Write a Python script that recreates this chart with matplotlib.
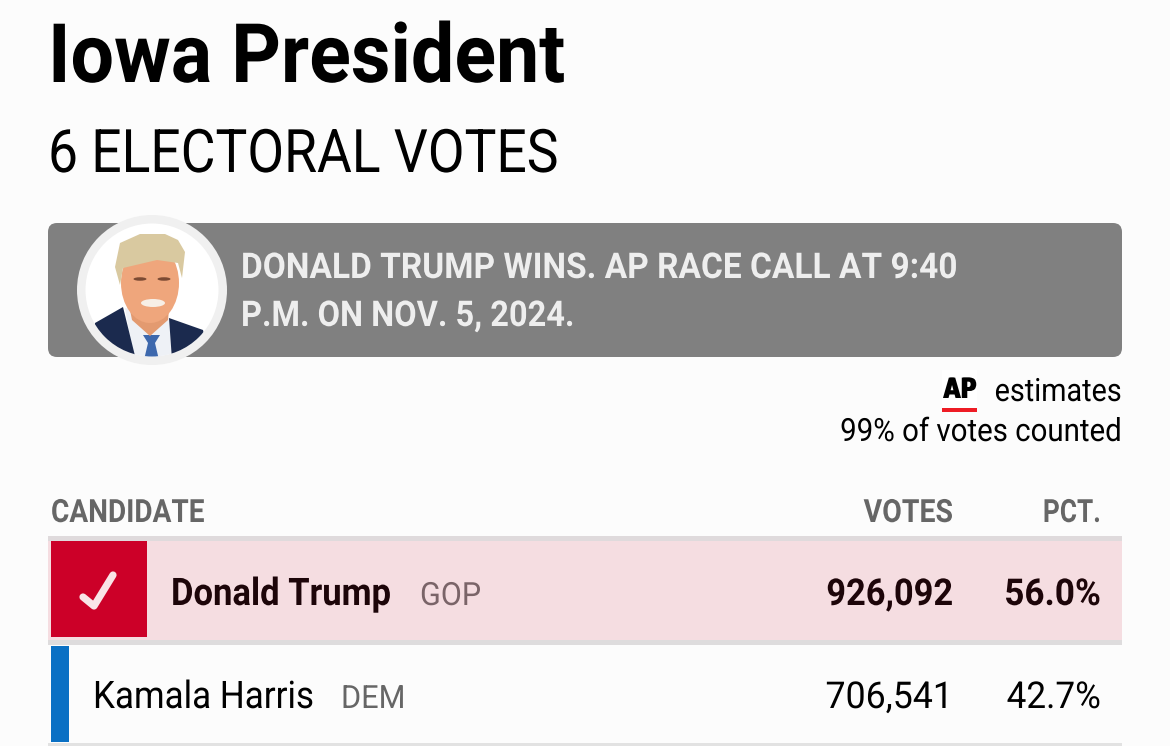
import matplotlib
matplotlib.use("Agg")
import matplotlib.pyplot as plt
import matplotlib.patheffects as pe
from matplotlib.patches import Rectangle, FancyBboxPatch, Circle, Ellipse, Polygon
from matplotlib.transforms import Affine2D

candidates = ["Donald Trump", "Kamala Harris"]
parties = ["GOP", "DEM"]
votes = ["926,092", "706,541"]
pcts = ["56.0%", "42.7%"]

title = "Iowa President"
subtitle = "6 ELECTORAL VOTES"
call_lines = ["DONALD TRUMP WINS. AP RACE CALL AT 9:40", "P.M. ON NOV. 5, 2024."]
columns = ["CANDIDATE", "VOTES", "PCT."]
credit_lines = ["estimates", "99% of votes counted"]

FONT = "Roboto"


# no condensed font installed, so squeeze the glyph outlines around the anchor
class Squeeze(pe.AbstractPathEffect):
    def __init__(self, x0, sx, shift=0):
        super().__init__()
        self.x0 = x0
        self.sx = sx
        self.shift = shift

    def draw_path(self, renderer, gc, tpath, affine, rgbFace=None):
        squeeze = Affine2D().translate(-self.x0, 0).scale(self.sx, 1).translate(self.x0 + self.shift, 0)
        renderer.draw_path(gc, tpath, affine + squeeze, rgbFace)


fig = plt.figure(figsize=(11.7, 7.46), dpi=100, facecolor="#fcfcfc")
ax = fig.add_axes([0, 0, 1, 1])
ax.set_xlim(0, 1170)
ax.set_ylim(746, 0)
ax.axis("off")


def txt(x, y, s, px, sx, color="black", weight="normal", ha="left", family=FONT):
    t = ax.text(x, y, s, fontsize=px * 0.72, color=color, fontweight=weight, ha=ha,
                va="baseline", family=family, zorder=6)
    t.set_path_effects([Squeeze(x, sx)])
    return t


def box(x0, y0, x1, y1, color, z=2):
    ax.add_patch(Rectangle((x0, y0), x1 - x0, y1 - y0, fc=color, ec="none", zorder=z))


txt(48, 82, title, 82, 0.94, weight="bold")
txt(48, 172, subtitle, 60, 0.89)

# banner
ax.add_patch(FancyBboxPatch((48, 223), 1074, 134, boxstyle="round,pad=0,rounding_size=9",
                            fc="#808080", ec="none", zorder=1))
txt(241, 278, call_lines[0], 35.5, 0.942, color="#eeeeee", weight="bold")
txt(241, 326, call_lines[1], 35.5, 0.917, color="#eeeeee", weight="bold")

# portrait
ax.add_patch(Circle((152, 290), 75, fc="#f0f0f0", ec="none", zorder=3))
ax.add_patch(Circle((152, 290), 66.5, fc="white", ec="none", zorder=3))
clip = Circle((152, 290), 66.5, transform=ax.transData)
parts = [
    Polygon([(125, 308), (169, 318), (172, 360), (134, 360)], fc="#eef1f6", ec="none"),
    Polygon([(95, 323), (123, 307), (136, 360), (90, 360)], fc="#1b2a4e", ec="none"),
    Polygon([(169, 318), (203, 330), (210, 360), (172, 360)], fc="#1b2a4e", ec="none"),
    Polygon([(143, 335), (160, 335), (155, 343), (159, 360), (144, 360), (148, 343)], fc="#3d68ad", ec="none"),
    Polygon([(128, 300), (170, 300), (168, 320), (150, 336), (132, 320)], fc="#e39a70", ec="none"),
    Ellipse((150, 283), 58, 80, fc="#efa67c", ec="none"),
    Polygon([(120, 243), (140, 234), (165, 234), (178, 240), (185, 252), (182, 278), (178, 263),
             (157, 260), (123, 268), (120, 285), (115, 267)], fc="#d9c9a0", ec="none"),
    Ellipse((153, 303), 24, 8, fc="#f7efe6", ec="none"),
    Ellipse((140, 279), 13, 3.5, fc="#7c4a33", ec="none"),
    Ellipse((164, 279), 13, 3.5, fc="#7c4a33", ec="none"),
]
for p in parts:
    p.set_zorder(4)
    ax.add_patch(p)
    p.set_clip_path(clip)

# AP credit
box(942, 370, 977, 408, "white", 1)
ap = txt(960, 398, "AP", 28, 0.78, weight="bold", ha="center", family="DejaVu Sans")
ap.set_path_effects([Squeeze(960, 0.78, -0.7), Squeeze(960, 0.78, 0.7)])
box(942, 408, 977, 412, "#ee1c25")
txt(1122, 401, credit_lines[0], 32, 0.90, ha="right")
txt(1122, 441, credit_lines[1], 32, 0.92, ha="right")

# header
txt(51, 522, columns[0], 32, 0.875, color="#666666", weight="bold")
txt(953, 522, columns[1], 32, 0.89, color="#666666", weight="bold", ha="right")
txt(1101, 522, columns[2], 32, 0.82, color="#666666", weight="bold", ha="right")

# rows
box(48, 536, 1122, 541, "#dfdadc")
box(48, 541, 1122, 640, "#f5dde1")
box(48, 640, 1122, 645, "#dedcdd")
box(51, 541, 147, 637, "#cc0028", 3)
ax.plot([83, 94, 113], [597, 606, 575], color="#f9e4e7", lw=5.2, solid_capstyle="round",
        solid_joinstyle="round", zorder=5)
box(51, 646, 69, 742, "#0a70c4", 3)
box(48, 743, 1122, 746, "#e2e2e2")

txt(171, 605, candidates[0], 38, 0.91, color="#1d0509", weight="bold")
txt(420, 605, parties[0], 32, 0.955, color="#7a6468")
txt(953, 605, votes[0], 37, 0.93, color="#1d0509", weight="bold", ha="right")
txt(1101, 605, pcts[0], 37, 0.95, color="#1d0509", weight="bold", ha="right")

txt(93, 708, candidates[1], 38, 0.92)
txt(341, 708, parties[1], 32, 0.96, color="#666666")
txt(953, 708, votes[1], 37, 0.965, ha="right")
txt(1101, 708, pcts[1], 37, 0.95, ha="right")

fig.savefig("out.png", dpi=100, facecolor=fig.get_facecolor())
